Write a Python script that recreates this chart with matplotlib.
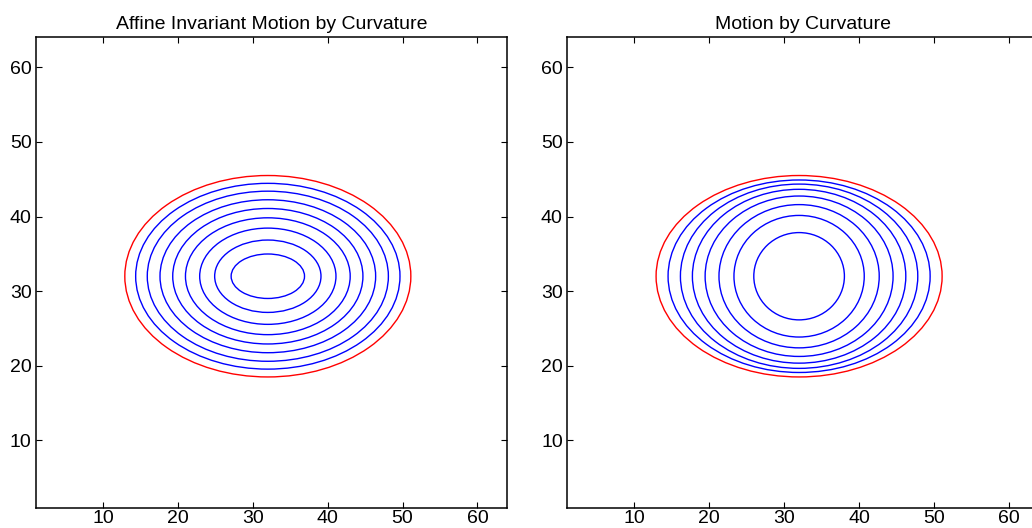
import matplotlib

matplotlib.use("Agg")
import matplotlib.pyplot as plt
from matplotlib.patches import Ellipse

plt.rcParams["font.family"] = ["Liberation Sans", "DejaVu Sans"]

# contour data (semi-axes in grid units)
center = (32, 32)
initial_a = 19.1
initial_b = 13.5

affine_a = [17.65, 16.1, 14.4, 12.7, 11.0, 9.1, 7.1, 4.9]
affine_b = [12.45, 11.4, 10.25, 9.08, 7.83, 6.45, 4.85, 2.98]

curv_a = [17.5, 15.85, 14.25, 12.55, 10.7, 8.7, 6.05]
curv_b = [12.9, 12.35, 11.65, 10.75, 9.6, 8.15, 5.85]

ticks = [10, 20, 30, 40, 50, 60]
titles = ["Affine Invariant Motion by Curvature", "Motion by Curvature"]


def draw_panel(ax, title, a_vals, b_vals):
    ax.add_patch(
        Ellipse(center, 2 * initial_a, 2 * initial_b, fill=False,
                edgecolor="#ff0000", linewidth=1.0)
    )
    for a, b in zip(a_vals, b_vals):
        ax.add_patch(
            Ellipse(center, 2 * a, 2 * b, fill=False,
                    edgecolor="#0000ff", linewidth=1.0)
        )
    ax.set_xlim(1, 64)
    ax.set_ylim(1, 64)
    ax.set_xticks(ticks)
    ax.set_yticks(ticks)
    ax.tick_params(direction="in", top=True, right=True, length=4,
                   width=0.8, labelsize=14)
    ax.tick_params(axis="x", pad=1.5)
    ax.tick_params(axis="y", pad=3)
    for spine in ax.spines.values():
        spine.set_linewidth(1.1)
    ax.set_title(title, fontsize=14, pad=6)


fig = plt.figure(figsize=(10.32, 5.28), dpi=100)
ax1 = fig.add_axes([0.0346, 0.0388, 0.4571, 0.8902])
ax2 = fig.add_axes([0.5494, 0.0388, 0.4571, 0.8902])

draw_panel(ax1, titles[0], affine_a, affine_b)
draw_panel(ax2, titles[1], curv_a, curv_b)

fig.savefig("out.png", dpi=100)
plt.close(fig)
